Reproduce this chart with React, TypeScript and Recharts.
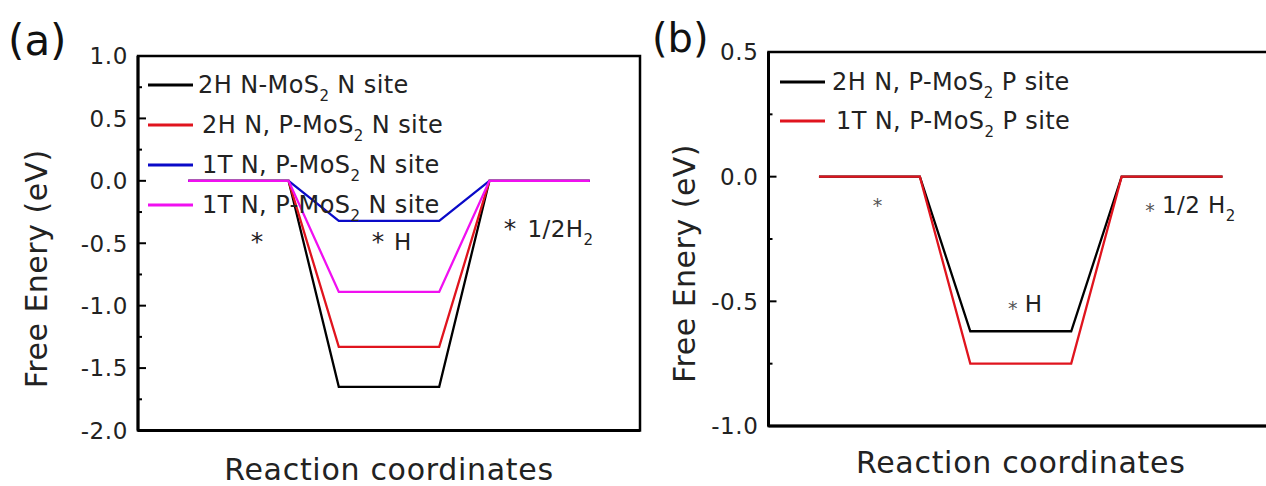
import React from 'react';
import { LineChart, Line, XAxis, YAxis, ReferenceArea, ReferenceDot, Legend, Customized } from 'recharts';

if (typeof document !== 'undefined') {
  document.body.style.margin = '0';
}

const FONT = '"DejaVu Sans", Verdana, sans-serif';
const TXT = '#222';

// ---- data ----
const stepsX = [0, 2, 3, 5, 6, 8];

const a2HNMoS2 = [0, 0, -1.65, -1.65, 0, 0];
const a2HNPMoS2 = [0, 0, -1.33, -1.33, 0, 0];
const a1TNPMoS2Blue = [0, 0, -0.32, -0.32, 0, 0];
const a1TNPMoS2Mag = [0, 0, -0.89, -0.89, 0, 0];

const b2HNPMoS2 = [0, 0, -0.62, -0.62, 0, 0];
const b1TNPMoS2 = [0, 0, -0.75, -0.75, 0, 0];

const namesA = ['2H N-MoS₂ N site', '2H N, P-MoS₂ N site', '1T N, P-MoS₂ N site', '1T N, P-MoS₂ N site '];
const namesB = ['2H N, P-MoS₂ P site', '1T N, P-MoS₂ P site'];

const yTicksA = [-2, -1.75, -1.5, -1.25, -1, -0.75, -0.5, -0.25, 0, 0.25, 0.5, 0.75, 1];
const yTicksB = [-1, -0.75, -0.5, -0.25, 0, 0.25, 0.5];

const xDomain = [-1, 9];
const yDomainA = [-2, 1];
const yDomainB = [-1, 0.5];

// annotations: data-space anchor, text, optional subscript
const annoA = [
  { x: 1.37, y: -0.554, text: '*', sub: '', kind: 'starMid' },
  { x: 3.78, y: -0.556, text: '*', sub: '', kind: 'starMid' },
  { x: 4.1, y: -0.556, text: 'H', sub: '', kind: 'text' },
  { x: 6.41, y: -0.452, text: '*', sub: '', kind: 'starMid' },
  { x: 6.76, y: -0.452, text: '1/2H', sub: '2', kind: 'text' },
];
const annoB = [
  { x: 1.16, y: -0.142, text: '*', sub: '', kind: 'smallStar' },
  { x: 3.84, y: -0.553, text: '*', sub: '', kind: 'smallStar' },
  { x: 4.08, y: -0.543, text: 'H', sub: '', kind: 'text' },
  { x: 6.56, y: -0.16, text: '*', sub: '', kind: 'smallStar' },
  { x: 6.8, y: -0.146, text: '1/2 H', sub: '2', kind: 'text' },
];

const seriesA = [
  { key: 'a1', name: namesA[0], color: '#000000', values: a2HNMoS2 },
  { key: 'a2', name: namesA[1], color: '#e0141e', values: a2HNPMoS2 },
  { key: 'a3', name: namesA[2], color: '#0a0ac8', values: a1TNPMoS2Blue },
  { key: 'a4', name: namesA[3], color: '#f010f0', values: a1TNPMoS2Mag },
];
const seriesB = [
  { key: 'b1', name: namesB[0], color: '#000000', values: b2HNPMoS2 },
  { key: 'b2', name: namesB[1], color: '#e0141e', values: b1TNPMoS2 },
];

const buildRows = (series: any[]) =>
  stepsX.map((x, i) => {
    const row: any = { x };
    series.forEach((s) => (row[s.key] = s.values[i]));
    return row;
  });

const dataA = buildRows(seriesA);
const dataB = buildRows(seriesB);

// ---- helpers ----
const YTick = (props: any) => {
  const { x, y, payload } = props;
  const v = payload.value as number;
  const major = Math.abs(v * 2 - Math.round(v * 2)) < 1e-9;
  const ax = x + 10;
  return (
    <g>
      <line x1={ax} x2={ax + (major ? 8 : 4)} y1={y} y2={y} stroke="#000" strokeWidth={2} />
      {major && (
        <text x={x} y={y} dy={8.4} textAnchor="end" fontFamily={FONT} fontSize={23} fill={TXT} letterSpacing={0.6}>
          {v.toFixed(1)}
        </text>
      )}
    </g>
  );
};

const renderName = (name: string) => {
  const parts = name.trim().split('₂');
  return (
    <>
      {parts[0]}
      {parts.length > 1 && (
        <span style={{ fontSize: 15, position: 'relative', top: 8 }}>2</span>
      )}
      {parts.length > 1 && parts[1]}
    </>
  );
};

const makeLegend = (order: string[], rowH: number, gaps: number[]) => (props: any) => {
  const payload = [...(props.payload || [])].sort(
    (p: any, q: any) => order.indexOf(p.value) - order.indexOf(q.value)
  );
  return (
    <div style={{ fontFamily: FONT, fontSize: 24, color: TXT, letterSpacing: 0.4 }}>
      {payload.map((p: any, i: number) => (
        <div key={i} style={{ display: 'flex', alignItems: 'center', height: rowH }}>
          <svg width={45} height={6} style={{ display: 'block' }}>
            <line x1={0} x2={45} y1={3} y2={3} stroke={p.color} strokeWidth={3} />
          </svg>
          <span style={{ marginLeft: gaps[i] ?? 6, whiteSpace: 'nowrap', lineHeight: 1 }}>
            {renderName(p.value)}
          </span>
        </div>
      ))}
    </div>
  );
};

const annoLabel = (a: any) => (props: any) => {
  const vb = props.viewBox || { x: 0, y: 0, width: 0, height: 0 };
  const cx = vb.x + (vb.width || 0) / 2;
  const cy = vb.y + (vb.height || 0) / 2;
  if (a.kind === 'starMid') {
    return (
      <text x={cx} y={cy} textAnchor="middle" fontFamily={FONT} fontSize={25} fill={TXT}>
        {a.text}
      </text>
    );
  }
  if (a.kind === 'smallStar') {
    return (
      <text x={cx} y={cy} textAnchor="middle" fontFamily={FONT} fontSize={19} fill="#555">
        {a.text}
      </text>
    );
  }
  return (
    <text x={cx} y={cy} textAnchor="start" fontFamily={FONT} fontSize={23} fill={TXT} letterSpacing={0.4}>
      {a.text}
      {a.sub && (
        <tspan fontSize={15} dy={8}>
          {a.sub}
        </tspan>
      )}
    </text>
  );
};

const yTitle = (dx: number, dyc: number) => (props: any) => {
  const vb = props.viewBox;
  const x = vb.x + vb.width + dx;
  const y = vb.y + vb.height / 2 + dyc;
  return (
    <text
      x={x}
      y={y}
      textAnchor="middle"
      transform={`rotate(-90 ${x} ${y})`}
      fontFamily={FONT}
      fontSize={30}
      fill={TXT}
      letterSpacing={0.5}
    >
      Free Enery (eV)
    </text>
  );
};

const xTitle = (dy: number) => (props: any) => {
  const vb = props.viewBox;
  return (
    <text
      x={vb.x + vb.width / 2}
      y={vb.y + dy}
      textAnchor="middle"
      fontFamily={FONT}
      fontSize={30}
      fill={TXT}
      letterSpacing={0.7}
    >
      Reaction coordinates
    </text>
  );
};

const PanelLetter = (props: any) => (
  <text x={props.px} y={props.py} fontFamily={FONT} fontSize={props.size} fill="#111">
    {props.label}
  </text>
);

export default function App() {
  return (
    <div
      style={{
        position: 'relative',
        width: 1266,
        height: 486,
        overflow: 'hidden',
        background: '#fff',
      }}
    >
      <div style={{ position: 'absolute', left: 8, top: 8, width: 640, height: 478 }}>
        <LineChart width={640} height={478} data={dataA} margin={{ top: 48, right: 8, bottom: 54.5, left: 129 }}>
          <XAxis
            dataKey="x"
            type="number"
            domain={xDomain}
            allowDataOverflow
            height={1}
            tick={false}
            tickLine={false}
            axisLine={{ stroke: '#000', strokeWidth: 3 }}
            label={xTitle(49.5)}
          />
          <YAxis
            type="number"
            domain={yDomainA}
            ticks={yTicksA}
            interval={0}
            allowDataOverflow
            width={1}
            tickSize={0}
            tickMargin={10}
            tickLine={false}
            axisLine={{ stroke: '#000', strokeWidth: 3 }}
            tick={(p: any) => <YTick {...p} />}
            label={yTitle(-91, 25.5)}
          />
          <ReferenceArea x1={-1} x2={9} y1={-2} y2={1} fill="none" stroke="#000" strokeWidth={2.5} fillOpacity={0} />
          {seriesA.map((s) => (
            <Line
              key={s.key}
              dataKey={s.key}
              name={s.name}
              type="linear"
              stroke={s.color}
              strokeWidth={2.3}
              dot={false}
              activeDot={false}
              isAnimationActive={false}
            />
          ))}
          {annoA.map((a, i) => (
            <ReferenceDot key={i} x={a.x} y={a.y} r={1} fill="none" stroke="none" label={annoLabel(a)} />
          ))}
          <Legend
            layout="vertical"
            align="center"
            verticalAlign="middle"
            wrapperStyle={{ left: 140, top: 57, width: 'auto' }}
            content={makeLegend(namesA, 40, [5, 9, 9, 9])}
          />
          <Customized component={<PanelLetter px={0} py={47} size={42} label="(a)" />} />
        </LineChart>
      </div>
      <div style={{ position: 'absolute', left: 648, top: 8, width: 618, height: 478, overflow: 'hidden' }}>
        <LineChart width={630} height={478} data={dataB} margin={{ top: 44, right: 5, bottom: 59, left: 119.5 }}>
          <XAxis
            dataKey="x"
            type="number"
            domain={xDomain}
            allowDataOverflow
            height={1}
            tick={false}
            tickLine={false}
            axisLine={{ stroke: '#000', strokeWidth: 3 }}
            label={xTitle(47)}
          />
          <YAxis
            type="number"
            domain={yDomainB}
            ticks={yTicksB}
            interval={0}
            allowDataOverflow
            width={1}
            tickSize={0}
            tickMargin={10}
            tickLine={false}
            axisLine={{ stroke: '#000', strokeWidth: 3 }}
            tick={(p: any) => <YTick {...p} />}
            label={yTitle(-74, 24.5)}
          />
          <ReferenceArea x1={-1} x2={9} y1={-1} y2={0.5} fill="none" stroke="#000" strokeWidth={2.5} fillOpacity={0} />
          {seriesB.map((s) => (
            <Line
              key={s.key}
              dataKey={s.key}
              name={s.name}
              type="linear"
              stroke={s.color}
              strokeWidth={2.3}
              dot={false}
              activeDot={false}
              isAnimationActive={false}
            />
          ))}
          {annoB.map((a, i) => (
            <ReferenceDot key={i} x={a.x} y={a.y} r={1} fill="none" stroke="none" label={annoLabel(a)} />
          ))}
          <Legend
            layout="vertical"
            align="center"
            verticalAlign="middle"
            wrapperStyle={{ left: 132, top: 54, width: 'auto' }}
            content={makeLegend(namesB, 39, [7, 11])}
          />
          <Customized component={<PanelLetter px={4} py={44} size={40} label="(b)" />} />
        </LineChart>
      </div>
    </div>
  );
}
